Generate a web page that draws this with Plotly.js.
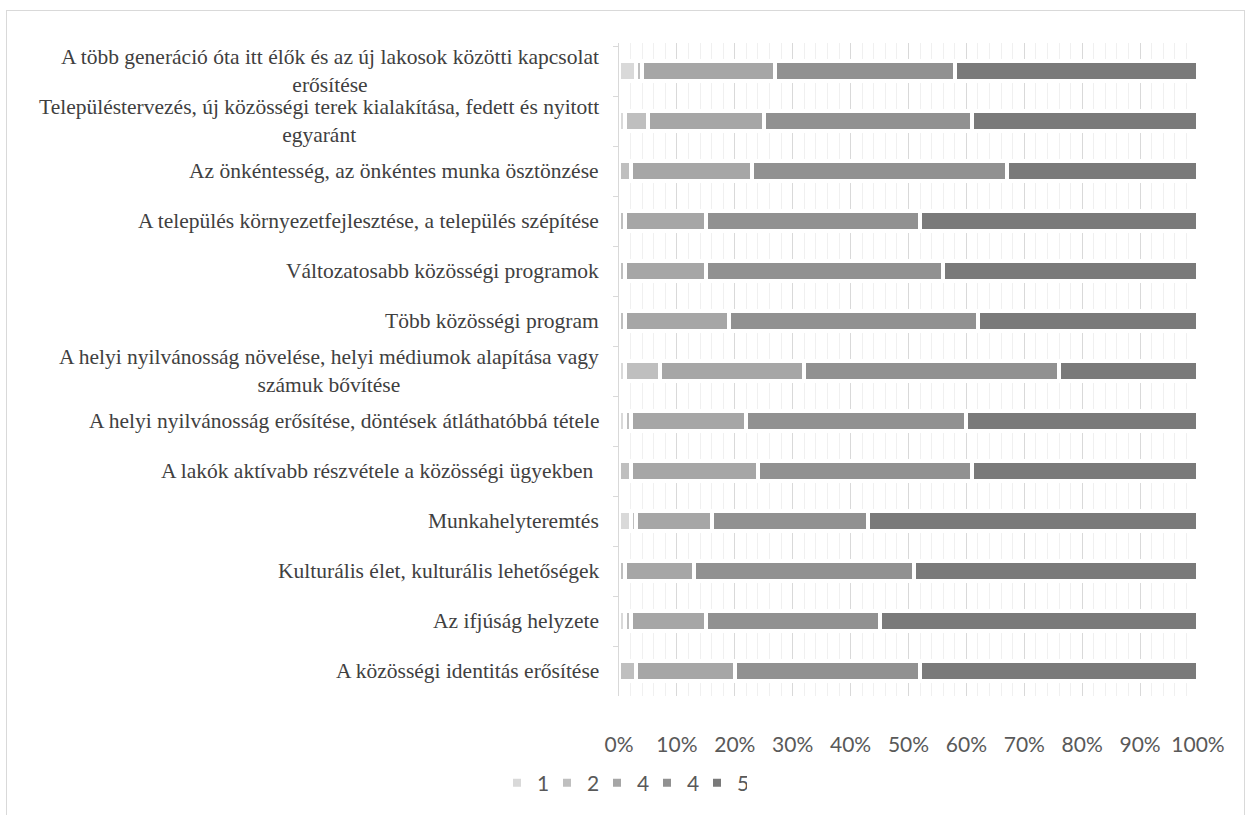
<!DOCTYPE html>
<html><head><meta charset="utf-8">
<script src="https://cdn.plot.ly/plotly-3.0.1.min.js"></script>
<style>
html,body{margin:0;padding:0;background:#fff;}
#frame{position:absolute;left:6px;top:10px;width:1239px;height:820px;border:1px solid #d9d9d9;box-sizing:border-box;}
#chart{position:absolute;left:0;top:0;width:1246px;height:815px;}
</style></head><body>
<div id="frame"></div><div id="chart"></div>
<script>
const categories = [
  "A több generáció óta itt élők és az új lakosok közötti kapcsolat<br>erősítése",
  "Településtervezés, új közösségi terek kialakítása, fedett és nyitott<br>egyaránt",
  "Az önkéntesség, az önkéntes munka ösztönzése",
  "A település környezetfejlesztése, a település szépítése",
  "Változatosabb közösségi programok",
  "Több közösségi program",
  "A helyi nyilvánosság növelése, helyi médiumok alapítása vagy<br>számuk bővítése",
  "A helyi nyilvánosság erősítése, döntések átláthatóbbá tétele",
  "A lakók aktívabb részvétele a közösségi ügyekben\u00a0",
  "Munkahelyteremtés",
  "Kulturális élet, kulturális lehetőségek",
  "Az ifjúság helyzete",
  "A közösségi identitás erősítése"
];
const seriesNames = ["1", "2", "4", "4", "5"];
const s1 = [3, 1, 0, 0, 0, 0, 1, 1, 0, 2, 0, 1, 0];
const s2 = [1, 4, 2, 1, 1, 1, 6, 1, 2, 1, 1, 1, 3];
const s3 = [23, 20, 21, 14, 14, 18, 25, 20, 22, 13, 12, 13, 17];
const s4 = [31, 36, 44, 37, 41, 43, 44, 38, 37, 27, 38, 30, 32];
const s5 = [42, 39, 33, 48, 44, 38, 24, 40, 39, 57, 49, 55, 48];
const xTicks = [0, 10, 20, 30, 40, 50, 60, 70, 80, 90, 100];
const xTickText = xTicks.map(v => v + "%");

const colors = ["#d9d9d9", "#bfbfbf", "#a6a6a6", "#919191", "#7a7a7a"];
const values = [s1, s2, s3, s4, s5];

const traces = values.map((v, i) => ({
  type: "bar",
  orientation: "h",
  name: seriesNames[i],
  x: v,
  y: categories,
  marker: {color: colors[i], line: {color: "#ffffff", width: 4}},
  hoverinfo: "x+name"
}));

const annotations = categories.map(c => ({
  xref: "paper", yref: "y", x: 0, y: c,
  xanchor: "right", yanchor: "middle", xshift: -18,
  align: "center", showarrow: false, text: c,
  font: {family: "Liberation Serif, Times New Roman, serif", size: 21.5, color: "#404040"}
}));

const layout = {
  width: 1246, height: 815,
  margin: {l: 619, r: 48, t: 43, b: 119, pad: 0},
  paper_bgcolor: "rgba(0,0,0,0)",
  plot_bgcolor: "rgba(0,0,0,0)",
  barmode: "stack",
  bargap: 0.6,
  showlegend: true,
  legend: {
    orientation: "h", xref: "container", yref: "container",
    x: 0.3989, y: 0.039, xanchor: "left", yanchor: "middle",
    entrywidth: 5, entrywidthmode: "pixels",
    font: {family: "Lato, Calibri, sans-serif", size: 21, color: "#595959"},
    traceorder: "normal"
  },
  xaxis: {
    range: [0, 100], tickmode: "array", tickvals: xTicks, ticktext: xTickText,
    showgrid: true, gridcolor: "#d9d9d9", gridwidth: 1,
    minor: {dtick: 2, showgrid: true, gridcolor: "#f0f0f0", gridwidth: 1},
    zeroline: false, showline: false, ticks: "",
    ticklabelstandoff: 34,
    tickfont: {family: "Lato, Calibri, sans-serif", size: 21, color: "#595959"},
    fixedrange: true
  },
  yaxis: {
    type: "category", autorange: "reversed",
    showticklabels: false, showgrid: false,
    showline: true, linecolor: "#d9d9d9", linewidth: 1,
    ticks: "outside", ticklen: 5, tickcolor: "#d9d9d9", tickson: "boundaries",
    fixedrange: true
  },
  annotations: annotations
};

Plotly.newPlot("chart", traces, layout, {displayModeBar: false, staticPlot: true});
</script>
</body></html>
